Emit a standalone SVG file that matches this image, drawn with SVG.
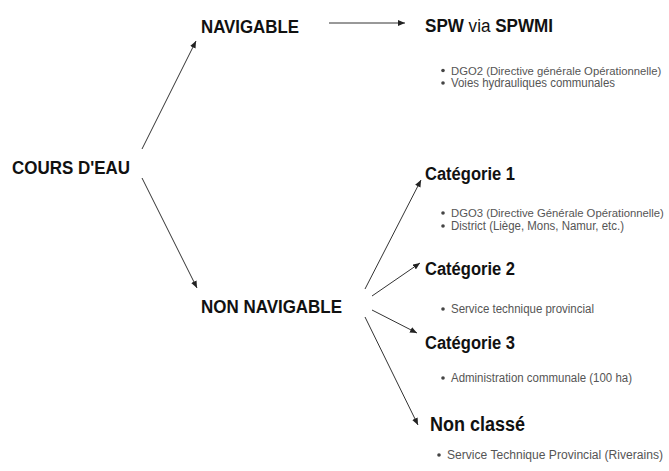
<svg xmlns="http://www.w3.org/2000/svg" width="669" height="471" viewBox="0 0 669 471">
<defs>
<marker id="ah" markerWidth="7" markerHeight="6" refX="7" refY="3" orient="auto" markerUnits="userSpaceOnUse">
<path d="M0,0 L7,3 L0,6 z" fill="#222"/>
</marker>
<style>
.h{font-family:"Liberation Sans",Arial,sans-serif;font-weight:bold;font-size:18px;fill:#111}
.hn{font-weight:normal}
.b{font-family:"Liberation Sans",Arial,sans-serif;font-size:12px;fill:#555}
.s{font-size:11.3px}
.dot{fill:#444}
.c{stroke:#333;stroke-width:1;fill:none;marker-end:url(#ah)}
</style>
</defs>
<rect width="669" height="471" fill="#fff"/>
<g id="connectors">
<line class="c" x1="142" y1="149" x2="196" y2="41"/>
<line class="c" x1="142" y1="178" x2="197" y2="288"/>
<line class="c" x1="329" y1="23" x2="405" y2="23"/>
<line class="c" x1="365" y1="289" x2="421" y2="180"/>
<line class="c" x1="372" y1="296" x2="420" y2="263"/>
<line class="c" x1="372" y1="310" x2="417" y2="333"/>
<line class="c" x1="365" y1="317" x2="418" y2="425"/>
</g>
<g id="cours-deau"><text class="h" x="12" y="174" textLength="118" lengthAdjust="spacingAndGlyphs">COURS D'EAU</text></g>
<g id="navigable"><text class="h" x="201" y="33" textLength="98" lengthAdjust="spacingAndGlyphs">NAVIGABLE</text></g>
<g id="non-navigable"><text class="h" x="201" y="313" textLength="141" lengthAdjust="spacingAndGlyphs">NON NAVIGABLE</text></g>
<g id="spw">
<text class="h" x="425" y="32" textLength="128" lengthAdjust="spacingAndGlyphs">SPW<tspan class="hn"> via </tspan>SPWMI</text>
<circle class="dot" cx="443" cy="70.5" r="1.8"/>
<text class="b s" x="451" y="74.5">DGO2 (Directive générale Opérationnelle)</text>
<circle class="dot" cx="443" cy="83" r="1.8"/>
<text class="b" x="451" y="87" textLength="164" lengthAdjust="spacingAndGlyphs">Voies hydrauliques communales</text>
</g>
<g id="categorie-1">
<text class="h" x="425" y="180" textLength="90" lengthAdjust="spacingAndGlyphs">Catégorie 1</text>
<circle class="dot" cx="443" cy="213" r="1.8"/>
<text class="b s" x="451" y="217">DGO3 (Directive Générale Opérationnelle)</text>
<circle class="dot" cx="443" cy="226" r="1.8"/>
<text class="b" x="451" y="230" textLength="173" lengthAdjust="spacingAndGlyphs">District (Liège, Mons, Namur, etc.)</text>
</g>
<g id="categorie-2">
<text class="h" x="425" y="275" textLength="90" lengthAdjust="spacingAndGlyphs">Catégorie 2</text>
<circle class="dot" cx="443" cy="309" r="1.8"/>
<text class="b" x="451" y="313" textLength="143" lengthAdjust="spacingAndGlyphs">Service technique provincial</text>
</g>
<g id="categorie-3">
<text class="h" x="425" y="349" textLength="90" lengthAdjust="spacingAndGlyphs">Catégorie 3</text>
<circle class="dot" cx="443" cy="378" r="1.8"/>
<text class="b" x="451" y="382" textLength="181" lengthAdjust="spacingAndGlyphs">Administration communale (100 ha)</text>
</g>
<g id="non-classe">
<text class="h" x="430" y="431" style="font-size:19.5px" textLength="95" lengthAdjust="spacingAndGlyphs">Non classé</text>
<circle class="dot" cx="439" cy="455" r="1.8"/>
<text class="b" x="447" y="459" textLength="216" lengthAdjust="spacingAndGlyphs">Service Technique Provincial (Riverains)</text>
</g>
</svg>
